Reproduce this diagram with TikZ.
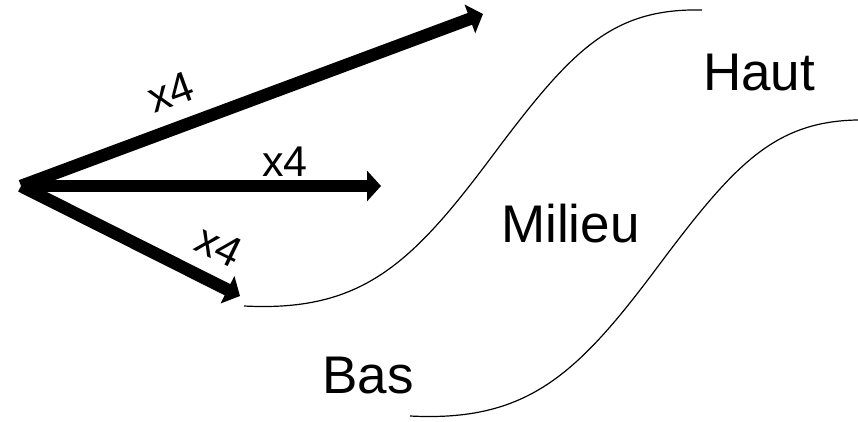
\documentclass[tikz,border=0pt]{standalone}
\usepackage{fontspec}
\setmainfont{Liberation Sans}
\usetikzlibrary{arrows.meta}

\begin{document}
\begin{tikzpicture}[x=1pt, y=-1pt,
    bigarrow/.style={line width=12.5pt, -{Triangle[length=14pt, width=30pt]}},
    zoneline/.style={line width=1.2pt},
    zonelabel/.style={font=\fontsize{53}{60}\selectfont, inner sep=0pt, anchor=base west},
    factor/.style={font=\fontsize{43}{50}\selectfont, inner sep=0pt}]
  \useasboundingbox (0,0) rectangle (858,421);

  %% Arrows from the common origin
  \coordinate (hub) at (21,186);
  \coordinate (tipup) at (483,14);
  \coordinate (tipmid) at (381,186);
  \coordinate (tiplow) at (240,296);
  \draw[bigarrow] (hub) -- (tipup);
  \draw[bigarrow] (hub) -- (tipmid);
  \draw[bigarrow] (hub) -- (tiplow);

  %% Factors
  \node[factor, rotate=20] (fup) at (171,92) {x4};
  \node[factor, anchor=base] (fmid) at (285,176) {x4};
  \node[factor, rotate=-26] (flow) at (219,246) {x4};

  %% Zone boundaries
  \draw[zoneline] (244,306) .. controls (360,312) and (410,266) .. (490,159)
    .. controls (570,52) and (610,8) .. (702,10);
  \begin{scope}
    \clip (0,0) rectangle (858,421);
    \draw[zoneline, shift={(166,110)}] (244,306) .. controls (360,312) and (410,266) .. (490,159)
      .. controls (570,52) and (610,8) .. (702,10);
  \end{scope}

  %% Zone labels
  \node[zonelabel] (haut) at (703,90) {Haut};
  \node[zonelabel] (milieu) at (501,242) {Milieu};
  \node[zonelabel] (bas) at (322,393) {Bas};
\end{tikzpicture}
\end{document}
